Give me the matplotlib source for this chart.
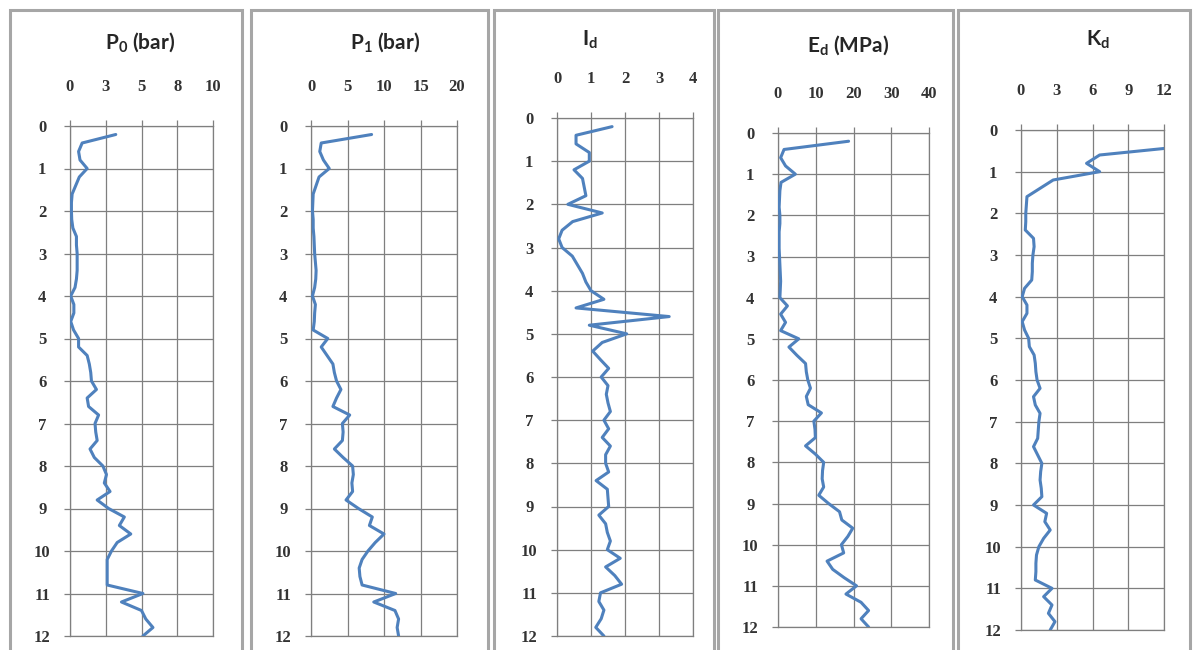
import numpy as np
import matplotlib
matplotlib.use("Agg")
import matplotlib.pyplot as plt
from matplotlib.patches import Rectangle

# ---------------- data ----------------
depth = [0.2, 0.4, 0.6, 0.8, 1.0, 1.2, 1.4, 1.6, 1.8, 2.0,
         2.2, 2.4, 2.6, 2.8, 3.0, 3.2, 3.4, 3.6, 3.8, 4.0,
         4.2, 4.4, 4.6, 4.8, 5.0, 5.2, 5.4, 5.6, 5.8, 6.0,
         6.2, 6.4, 6.6, 6.8, 7.0, 7.2, 7.4, 7.6, 7.8, 8.0,
         8.2, 8.4, 8.6, 8.8, 9.0, 9.2, 9.4, 9.6, 9.8, 10.0,
         10.2, 10.4, 10.6, 10.8, 11.0, 11.2, 11.4, 11.6, 11.8, 12.0]

p0 = [3.2, 0.85, 0.6, 0.7, 1.2, 0.65, 0.4, 0.15, 0.1, 0.1,
      0.12, 0.2, 0.45, 0.45, 0.5, 0.5, 0.5, 0.45, 0.35, 0.05,
      0.27, 0.27, 0.05, 0.25, 0.6, 0.6, 1.2, 1.35, 1.45, 1.5,
      1.85, 1.2, 1.3, 2.0, 1.75, 1.8, 1.9, 1.4, 1.7, 2.3,
      2.55, 2.4, 2.8, 1.9, 2.7, 3.8, 3.45, 4.25, 3.3, 2.9,
      2.6, 2.6, 2.6, 2.6, 5.1, 3.6, 5.0, 5.3, 5.8, 5.1]

p1 = [8.3, 1.4, 1.2, 1.7, 2.5, 1.1, 0.7, 0.3, 0.25, 0.2,
      0.3, 0.3, 0.4, 0.45, 0.5, 0.6, 0.7, 0.65, 0.5, 0.2,
      0.6, 0.5, 0.45, 0.3, 2.3, 1.4, 2.2, 3.0, 3.2, 3.5,
      4.1, 3.5, 3.0, 5.3, 4.3, 4.4, 4.3, 3.2, 4.4, 5.7,
      5.8, 5.6, 5.7, 4.8, 6.5, 8.4, 8.0, 10.0, 8.8, 7.8,
      7.0, 6.6, 6.7, 7.0, 11.6, 8.6, 11.5, 12.0, 11.8, 12.0]

i_d = [1.62, 0.56, 0.56, 0.95, 0.95, 0.5, 0.75, 0.8, 0.85, 0.32,
       1.33, 0.46, 0.15, 0.05, 0.15, 0.45, 0.6, 0.75, 0.85, 1.0,
       1.38, 0.56, 3.3, 0.95, 2.05, 1.33, 1.05, 1.28, 1.52, 1.3,
       1.5, 1.45, 1.5, 1.57, 1.38, 1.52, 1.33, 1.57, 1.43, 1.43,
       1.52, 1.15, 1.48, 1.5, 1.52, 1.23, 1.43, 1.48, 1.57, 1.48,
       1.86, 1.43, 1.7, 1.9, 1.28, 1.23, 1.38, 1.3, 1.14, 1.38]

e_d = [18.7, 1.6, 0.7, 2.0, 4.6, 0.8, 0.5, 0.4, 0.3, 0.5,
       0.5, 0.3, 0.3, 0.3, 0.4, 0.5, 0.6, 0.7, 0.6, 0.5,
       2.5, 0.7, 2.0, 0.7, 5.5, 2.9, 5.0, 7.3, 7.5, 7.9,
       8.6, 7.5, 8.0, 11.5, 9.5, 9.8, 9.9, 7.3, 9.9, 12.1,
       11.8, 11.7, 12.1, 10.8, 13.4, 16.3, 16.9, 19.8, 18.5, 16.8,
       17.4, 13.0, 14.5, 17.5, 20.8, 18.0, 22.0, 24.0, 22.0, 24.0]

k_d = [np.nan, 13.5, 6.6, 5.5, 6.6, 2.7, 1.6, 0.5, 0.45, 0.4,
       0.4, 0.36, 1.05, 1.1, 1.0, 0.95, 0.95, 0.9, 0.3, 0.1,
       0.5, 0.5, 0.1, 0.3, 0.64, 0.7, 1.1, 1.2, 1.25, 1.35,
       1.6, 1.05, 1.2, 1.6, 1.5, 1.45, 1.4, 1.05, 1.4, 1.75,
       1.65, 1.6, 1.7, 1.75, 1.05, 2.15, 2.0, 2.45, 1.9, 1.5,
       1.3, 1.25, 1.25, 1.2, 2.6, 1.9, 2.6, 2.3, 2.85, 2.45]

titles = [r"$\mathregular{P_0}$ (bar)", r"$\mathregular{P_1}$ (bar)",
          r"$\mathregular{I_d}$", r"$\mathregular{E_d}$ (MPa)", r"$\mathregular{K_d}$"]

xticks_p0 = [0, 2.5, 5, 7.5, 10]
xlabels_p0 = ["0", "3", "5", "8", "10"]
xticks_p1 = [0, 5, 10, 15, 20]
xlabels_p1 = ["0", "5", "10", "15", "20"]
xticks_id = [0, 1, 2, 3, 4]
xlabels_id = ["0", "1", "2", "3", "4"]
xticks_ed = [0, 10, 20, 30, 40]
xlabels_ed = ["0", "10", "20", "30", "40"]
xticks_kd = [0, 3, 6, 9, 12]
xlabels_kd = ["0", "3", "6", "9", "12"]
yticks = [0, 1, 2, 3, 4, 5, 6, 7, 8, 9, 10, 11, 12]

# ---------------- layout ----------------
W, H = 1194, 650
plt.rcParams['mathtext.fontset'] = 'custom'
plt.rcParams['mathtext.rm'] = 'Lato:bold'
plt.rcParams['mathtext.default'] = 'regular'

fig = plt.figure(figsize=(W / 100, H / 100), dpi=100)
fig.patch.set_facecolor('white')

# plot area (px): x0, x1, y0(top), y1(bottom)
areas = [(70, 213, 126, 636), (311, 457, 126, 636), (557, 693, 118, 636),
         (778, 929, 133, 627), (1021, 1164, 130, 630)]
boxes = [(10, 242), (251, 488), (494, 714), (718, 953), (958, 1190)]
title_pos = [(140, 42), (385, 42), (590, 40), (848, 45), (1098, 40)]

series = [p0, p1, i_d, e_d, k_d]
xt = [xticks_p0, xticks_p1, xticks_id, xticks_ed, xticks_kd]
xl = [xlabels_p0, xlabels_p1, xlabels_id, xlabels_ed, xlabels_kd]

grid_c = '#7f7f7f'
line_c = '#4f81bd'
tick_font = dict(family='Liberation Serif', weight='bold', size=12)

for i in range(5):
    bx0, bx1 = boxes[i]
    fig.patches.append(Rectangle((bx0 / W, -0.05), (bx1 - bx0) / W, 1.05 - 10 / H,
                                 transform=fig.transFigure, fill=False,
                                 edgecolor='#a6a6a6', linewidth=2.2, zorder=0))
    x0, x1, y0, y1 = areas[i]
    ax = fig.add_axes([x0 / W, 1 - y1 / H, (x1 - x0) / W, (y1 - y0) / H])
    ax.plot(series[i], depth, color=line_c, linewidth=2.2,
            solid_joinstyle='round', solid_capstyle='round', zorder=3)
    ax.set_xlim(xt[i][0], xt[i][-1])
    ax.set_ylim(12, 0)
    ax.set_xticks(xt[i])
    ax.set_xticklabels(xl[i], fontdict=tick_font, color='#333333')
    ax.set_yticks(yticks)
    ax.set_yticklabels([str(v) for v in yticks], fontdict=tick_font, color='#333333')
    ax.xaxis.tick_top()
    ax.tick_params(axis='x', direction='out', length=4, width=0.9, color=grid_c, pad=18)
    ax.tick_params(axis='y', direction='out', length=4, width=0.9, color=grid_c, pad=16)
    for lab in ax.get_yticklabels():
        lab.set_horizontalalignment('center')
    ax.grid(True, color=grid_c, linewidth=0.9)
    ax.set_axisbelow(True)
    for s in ax.spines.values():
        s.set_color(grid_c)
        s.set_linewidth(0.9)
    ax.set_facecolor('white')
    tx, ty = title_pos[i]
    fig.text(tx / W, 1 - ty / H, titles[i], ha='center', va='center',
             family='Lato', weight='bold', size=15, color='#262626')

fig.savefig('out.png', dpi=100)
